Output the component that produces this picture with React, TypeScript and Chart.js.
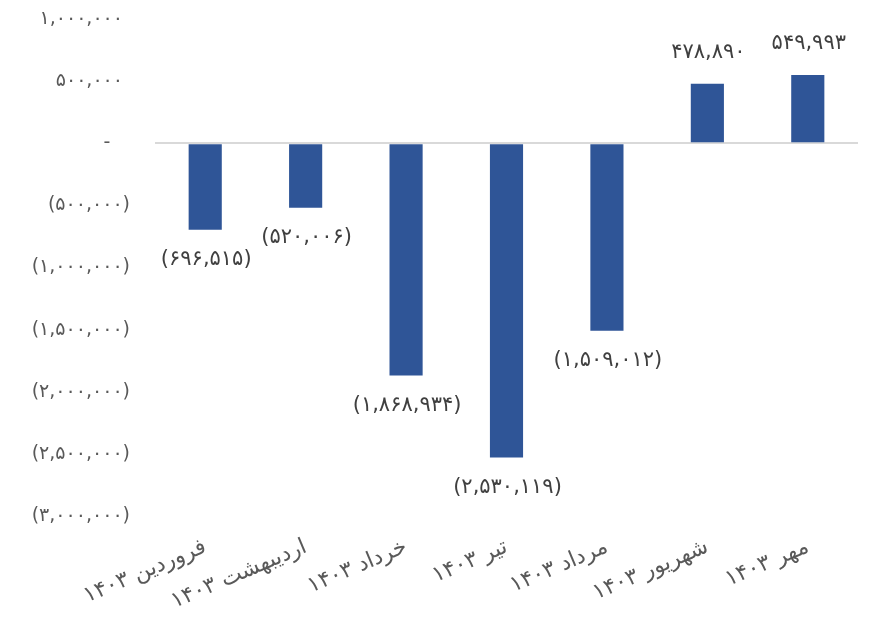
import React, { useEffect, useRef } from "react";
import { Chart, registerables } from "chart.js";

Chart.register(...registerables);

const categories: string[] = [
  "فروردین ۱۴۰۳",
  "اردیبهشت ۱۴۰۳",
  "خرداد ۱۴۰۳",
  "تیر ۱۴۰۳",
  "مرداد ۱۴۰۳",
  "شهریور ۱۴۰۳",
  "مهر ۱۴۰۳",
];

const values: number[] = [-696515, -520006, -1868934, -2530119, -1509012, 478890, 549993];

const yMin = -3000000;
const yMax = 1000000;
const yStep = 500000;

const FONT = "'DejaVu Sans', 'Noto Sans', sans-serif";

function toPersianDigits(s: string): string {
  const map = ["۰", "۱", "۲", "۳", "۴", "۵", "۶", "۷", "۸", "۹"];
  return s.replace(/[0-9]/g, (d) => map[Number(d)]);
}

function formatValue(v: number): string {
  if (v === 0) return "-";
  const s = toPersianDigits(Math.abs(v).toLocaleString("en-US"));
  return v < 0 ? "(" + s + ")" : s;
}

const labelPlugin = {
  id: "customLabels",
  afterDraw(chart: any) {
    const ctx = chart.ctx;
    // y-axis tick labels (accounting style alignment)
    const ys = chart.scales.y;
    const left = chart.chartArea.left;
    ctx.save();
    ctx.font = "19px " + FONT;
    ctx.fillStyle = "#595959";
    ctx.textBaseline = "middle";
    (ctx as any).letterSpacing = "2.2px";
    ys.ticks.forEach((t: any) => {
      const v = t.value;
      const y = ys.getPixelForValue(v);
      if (v === 0) {
        ctx.textAlign = "center";
        ctx.fillText("-", left - 47, y);
      } else {
        ctx.textAlign = "right";
        ctx.fillText(formatValue(v), v < 0 ? left - 25 : left - 32, y);
      }
    });
    ctx.restore();

    // data labels
    const meta = chart.getDatasetMeta(0);
    ctx.save();
    ctx.font = "21px " + FONT;
    ctx.fillStyle = "#404040";
    ctx.textAlign = "center";
    ctx.textBaseline = "middle";
    (ctx as any).letterSpacing = "2.4px";
    meta.data.forEach((el: any, i: number) => {
      const v = values[i];
      const y = v < 0 ? el.y + 30 : el.y - 31;
      ctx.fillText(formatValue(v), el.x + 1, y);
    });
    ctx.restore();
  },
};

export default function App() {
  const ref = useRef<HTMLCanvasElement | null>(null);

  useEffect(() => {
    if (!ref.current) return;
    const chart = new Chart(ref.current, {
      type: "bar",
      data: {
        labels: categories,
        datasets: [
          {
            data: values,
            backgroundColor: "#2F5597",
            borderWidth: 0,
            barPercentage: 0.33,
            categoryPercentage: 1,
          },
        ],
      },
      options: {
        animation: false,
        responsive: false,
        devicePixelRatio: 1,
        layout: { padding: { top: 19, right: 13, left: 0, bottom: 0 } },
        plugins: {
          legend: { display: false },
          tooltip: { enabled: false },
        },
        scales: {
          x: {
            grid: { display: false },
            border: { display: false },
            ticks: {
              color: "#595959",
              font: { size: 22, family: FONT },
              minRotation: 23,
              maxRotation: 23,
              padding: 10,
              autoSkip: false,
            },
            afterFit: (scale: any) => {
              scale.height = 104;
            },
          },
          y: {
            min: yMin,
            max: yMax,
            border: { display: false },
            grid: {
              drawTicks: false,
              color: (c: any) => (c.tick && c.tick.value === 0 ? "#d9d9d9" : "rgba(0,0,0,0)"),
              lineWidth: 2,
            },
            ticks: {
              stepSize: yStep,
              color: "rgba(0,0,0,0)",
              font: { size: 18, family: FONT },
              padding: 0,
              callback: (v: any) => formatValue(Number(v)),
            },
            afterFit: (scale: any) => {
              scale.width = 155;
            },
          },
        },
      },
      plugins: [labelPlugin],
    });
    return () => chart.destroy();
  }, []);

  return (
    <div style={{ position: "fixed", left: 0, top: 0, width: 871, height: 620, background: "#fff" }}>
      <canvas ref={ref} width={871} height={620} style={{ width: 871, height: 620 }} />
    </div>
  );
}
